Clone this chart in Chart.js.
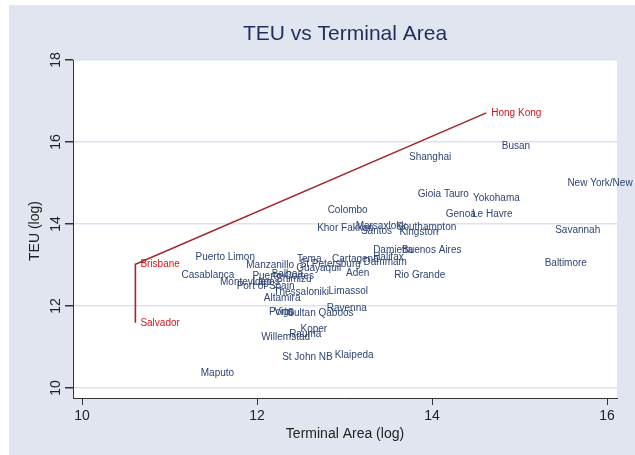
<!DOCTYPE html>
<html>
<head>
<meta charset="utf-8">
<script src="https://cdn.jsdelivr.net/npm/chart.js@4/dist/chart.umd.min.js"></script>
<style>
  html, body { margin: 0; padding: 0; background: #fff; overflow: hidden; }
  #wrap { width: 635px; height: 455px; position: relative; }
  canvas { display: block; }
</style>
</head>
<body>
<div id="wrap"><canvas id="chart" width="635" height="455"></canvas></div>
<script>
/* Port data: log terminal area vs log TEU */
const portNames = [
  "Busan", "Shanghai", "New York/New Jersey", "Gioia Tauro", "Yokohama",
  "Colombo", "Genoa", "Le Havre", "Khor Fakkan", "Marsaxlokk",
  "Santos", "Southampton", "Kingston", "Savannah", "Damietta",
  "Buenos Aires", "Halifax", "Cartagena", "Dammam", "Aden",
  "Rio Grande", "Limassol", "Ravenna", "Baltimore", "Puerto Limon",
  "Manzanillo", "Tema", "St Petersburg", "Guayaquil", "Casablanca",
  "Puerto Cortes", "Balboa", "Shimizu", "Montevideo", "Lagos",
  "Port of Spain", "Thessaloniki", "Altamira", "Porto", "Vigo",
  "Sultan Qaboos", "Koper", "Rauma", "Willemstad", "St John NB",
  "Klaipeda", "Maputo"
];
const portArea = [
  14.74, 13.68, 15.49, 13.78, 14.41,
  12.75, 14.10, 14.40, 12.63, 13.07,
  13.13, 13.54, 13.57, 15.35, 13.27,
  13.60, 13.27, 12.80, 13.16, 12.96,
  13.51, 12.76, 12.74, 15.23, 11.24,
  11.82, 12.40, 12.43, 12.39, 11.08,
  11.89, 12.11, 12.16, 11.52, 11.89,
  11.71, 12.13, 12.02, 12.08, 12.14,
  12.29, 12.44, 12.31, 11.99, 12.23,
  12.83, 11.30
];
const portTeu = [
  15.89, 15.64, 14.99, 14.72, 14.62,
  14.34, 14.24, 14.24, 13.89, 13.94,
  13.82, 13.93, 13.79, 13.85, 13.37,
  13.37, 13.18, 13.15, 13.07, 12.81,
  12.76, 12.35, 11.94, 13.05, 13.20,
  13.00, 13.15, 13.02, 12.91, 12.74,
  12.72, 12.78, 12.66, 12.59, 12.59,
  12.47, 12.33, 12.19, 11.85, 11.85,
  11.83, 11.43, 11.30, 11.24, 10.75,
  10.81, 10.35
];

/* Highlighted ports joined by the red line */
const hiNames = ["Salvador", "Brisbane", "Hong Kong"];
const hiArea = [10.61, 10.61, 14.62];
const hiTeu = [11.59, 13.02, 16.71];

const xTicks = [10, 12, 14, 16];
const yTicks = [10, 12, 14, 16, 18];

const NAVY = "#2f4473";
const RED = "#dc1019";
const LINE_RED = "#a3262e";
const BG = "#e0e5ef";

/* Background, plot region, titles, tick labels and point labels */
const stataLook = {
  id: "stataLook",
  beforeDraw(chart) {
    const c = chart.ctx;
    const a = chart.chartArea;
    c.save();
    c.fillStyle = "#fff";
    c.fillRect(0, 0, chart.width, chart.height);
    c.fillStyle = BG;
    c.fillRect(9, 5, chart.width - 9, chart.height - 5);
    c.fillStyle = "#fff";
    c.fillRect(a.left, a.top, a.right - a.left, a.bottom - a.top);
    c.restore();
  },
  afterDraw(chart) {
    const c = chart.ctx;
    const a = chart.chartArea;
    const xs = chart.scales.x;
    const ys = chart.scales.y;
    c.save();

    // title
    c.fillStyle = "#1f2f5c";
    c.font = "21px 'Liberation Sans', Arial, sans-serif";
    c.textAlign = "center";
    c.textBaseline = "middle";
    c.fillText("TEU vs Terminal Area", (a.left + a.right) / 2, 34);

    // x tick labels
    c.fillStyle = "#222";
    c.font = "14px 'Liberation Sans', Arial, sans-serif";
    xTicks.forEach(v => c.fillText(String(v), xs.getPixelForValue(v), 416));
    c.fillText("Terminal Area (log)", (a.left + a.right) / 2, 434);

    // y tick labels, rotated
    yTicks.forEach(v => {
      c.save();
      c.translate(56, ys.getPixelForValue(v));
      c.rotate(-Math.PI / 2);
      c.fillText(String(v), 0, 0);
      c.restore();
    });
    c.save();
    c.translate(35, (a.top + a.bottom) / 2 + 2);
    c.rotate(-Math.PI / 2);
    c.fillText("TEU (log)", 0, 0);
    c.restore();

    // point labels, placed at 3 o'clock
    c.textAlign = "left";
    c.font = "10px 'Liberation Sans', Arial, sans-serif";
    c.fillStyle = NAVY;
    chart.getDatasetMeta(0).data.forEach((pt, i) => {
      c.fillText(portNames[i], pt.x + 5, pt.y);
    });
    c.fillStyle = RED;
    chart.getDatasetMeta(1).data.forEach((pt, i) => {
      c.fillText(hiNames[i], pt.x + 5, pt.y);
    });
    c.restore();
  }
};

new Chart(document.getElementById("chart"), {
  type: "scatter",
  data: {
    datasets: [
      {
        data: portArea.map((x, i) => ({ x: x, y: portTeu[i] })),
        pointRadius: 0,
        pointHoverRadius: 0,
        showLine: false
      },
      {
        data: hiArea.map((x, i) => ({ x: x, y: hiTeu[i] })),
        pointRadius: 0,
        pointHoverRadius: 0,
        showLine: true,
        borderColor: LINE_RED,
        borderWidth: 1.6,
        tension: 0
      }
    ]
  },
  options: {
    responsive: false,
    animation: false,
    events: [],
    layout: { padding: { left: 0, top: 60, right: 18, bottom: 0 } },
    plugins: { legend: { display: false }, tooltip: { enabled: false } },
    scales: {
      x: {
        type: "linear",
        min: 9.897,
        max: 16.114,
        afterBuildTicks: s => { s.ticks = xTicks.map(v => ({ value: v })); },
        afterFit: s => { s.height = 57; },
        ticks: { display: false },
        grid: {
          drawOnChartArea: false,
          drawTicks: true,
          tickLength: 7,
          tickColor: "#333"
        },
        border: { display: true, color: "#333", width: 1 }
      },
      y: {
        type: "linear",
        min: 9.756,
        max: 18,
        afterBuildTicks: s => { s.ticks = yTicks.map(v => ({ value: v })); },
        afterFit: s => { s.width = 73; },
        ticks: { display: false },
        grid: {
          color: "#dce2ee",
          lineWidth: 1.5,
          drawTicks: true,
          tickLength: 8,
          tickColor: "#333"
        },
        border: { display: true, color: "#333", width: 1 }
      }
    }
  },
  plugins: [stataLook]
});
</script>
</body>
</html>
